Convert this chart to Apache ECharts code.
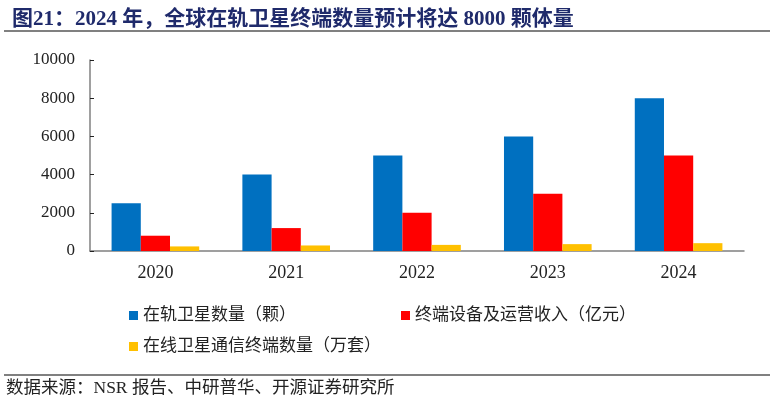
<!DOCTYPE html>
<html>
<head>
<meta charset="utf-8">
<script src="https://cdn.jsdelivr.net/npm/echarts@6/dist/echarts.min.js"></script>
<style>
  html, body { margin: 0; padding: 0; background: #fff; }
  #main { width: 774px; height: 405px; }
</style>
</head>
<body>
<div id="main"></div>
<script>
// 数据
var years = ['2020', '2021', '2022', '2023', '2024'];
var satCount = [2500, 4000, 5000, 6000, 8000];        // 在轨卫星数量（颗）
var revenue = [800, 1200, 2000, 3000, 5000];          // 终端设备及运营收入（亿元）
var terminals = [240, 290, 320, 360, 410];            // 在线卫星通信终端数量（万套）
var yTicks = [0, 2000, 4000, 6000, 8000, 10000];

var serif = '"Liberation Serif", "Times New Roman", "Noto Sans CJK SC", serif';

var myChart = echarts.init(document.getElementById('main'));

var legendText = { fontSize: 17, color: '#222', fontFamily: serif };

var option = {
    animation: false,
    backgroundColor: '#fff',
    title: {
        text: '图21：2024 年，全球在轨卫星终端数量预计将达 8000 颗体量',
        left: 7,
        top: 4,
        textStyle: {
            color: '#1f2a6b',
            fontSize: 21,
            fontWeight: 'bold',
            fontFamily: serif
        }
    },
    graphic: [
        { type: 'line', shape: { x1: 4, y1: 31, x2: 770, y2: 31 }, style: { stroke: '#808080', lineWidth: 2 } },
        { type: 'line', shape: { x1: 4, y1: 375, x2: 770, y2: 375 }, style: { stroke: '#808080', lineWidth: 2 } },
        {
            type: 'text', left: 6, top: 380,
            style: { text: '数据来源：NSR 报告、中研普华、开源证券研究所', fill: '#222', font: '17.5px ' + serif }
        }
    ],
    legend: [
        {
            left: 124, top: 302,
            itemWidth: 9, itemHeight: 9, itemGap: 105, icon: 'rect',
            textStyle: legendText,
            data: ['在轨卫星数量（颗）', '终端设备及运营收入（亿元）']
        },
        {
            left: 124, top: 333,
            itemWidth: 9, itemHeight: 9, icon: 'rect',
            textStyle: legendText,
            data: ['在线卫星通信终端数量（万套）']
        }
    ],
    grid: { left: 90, right: 30, top: 60, bottom: 154 },
    xAxis: {
        type: 'category',
        data: years,
        axisLine: { lineStyle: { color: '#808080', width: 1.5 } },
        axisTick: { inside: true, length: 5, lineStyle: { color: '#222' } },
        axisLabel: { color: '#222', fontSize: 18, margin: 13, fontFamily: serif }
    },
    yAxis: {
        type: 'value',
        min: yTicks[0],
        max: yTicks[yTicks.length - 1],
        interval: 2000,
        splitLine: { show: false },
        axisLine: { show: true, lineStyle: { color: '#808080', width: 1.5 } },
        axisTick: { show: true, inside: true, length: 4, lineStyle: { color: '#222' } },
        axisLabel: {
            color: '#222', fontSize: 17, margin: 15, fontFamily: serif,
            formatter: function (v) { return String(v); }
        }
    },
    series: [
        {
            name: '在轨卫星数量（颗）', type: 'bar', data: satCount,
            itemStyle: { color: '#0070c0' }, barGap: '0%', barCategoryGap: '33%'
        },
        {
            name: '终端设备及运营收入（亿元）', type: 'bar', data: revenue,
            itemStyle: { color: '#ff0000' }, barGap: '0%', barCategoryGap: '33%'
        },
        {
            name: '在线卫星通信终端数量（万套）', type: 'bar', data: terminals,
            itemStyle: { color: '#ffc000' }, barGap: '0%', barCategoryGap: '33%'
        }
    ]
};

myChart.setOption(option);
</script>
</body>
</html>
